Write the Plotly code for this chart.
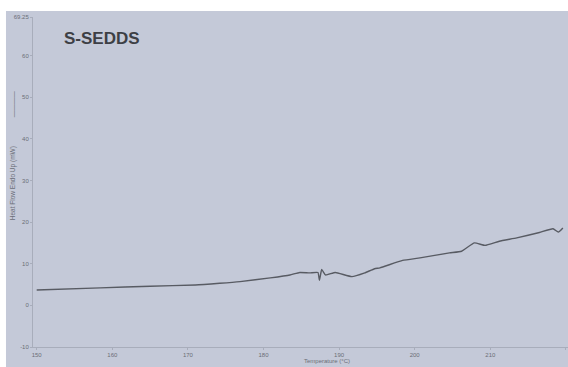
import plotly.graph_objects as go

temperature = [150.0, 158.4, 165.0, 171.0, 174.2, 176.9, 180.9, 183.5, 184.8, 186.1,
               187.2, 187.4, 187.7, 188.2, 189.5, 191.7, 193.4, 194.7, 195.4, 198.4,
               200.7, 204.6, 206.2, 207.9, 209.3, 211.2, 213.5, 216.5, 218.3, 219.0, 219.6]
heat_flow = [3.7, 4.2, 4.6, 4.9, 5.3, 5.7, 6.6, 7.3, 7.9, 7.8,
             7.9, 6.0, 8.6, 7.3, 7.9, 6.9, 7.8, 8.8, 9.0, 10.8,
             11.4, 12.6, 13.0, 15.0, 14.4, 15.4, 16.2, 17.5, 18.4, 17.6, 18.6]

x_ticks = [150, 160, 170, 180, 190, 200, 210, 220]
y_ticks = [-10, 0, 10, 20, 30, 40, 50, 60, 69.25]
y_tick_text = ["-10", "0", "10", "20", "30", "40", "50", "60", "69.25"]

bg = "#c4c9d8"
tick_col = "#6b6e77"

fig = go.Figure()
fig.add_trace(go.Scatter(x=temperature, y=heat_flow, mode="lines",
                         line=dict(color="#585b63", width=1.4, shape="spline", smoothing=0.4),
                         showlegend=False, hoverinfo="skip"))

fig.update_layout(
    width=568, height=367,
    margin=dict(l=33, r=0, t=17, b=20),
    paper_bgcolor=bg, plot_bgcolor=bg,
    font=dict(family="Liberation Sans, Arial, sans-serif", color=tick_col, size=6),
    xaxis=dict(range=[149.51, 220.28], tickmode="array", tickvals=x_ticks,
               showgrid=False, zeroline=False, showline=True, linecolor="#a8adbb", linewidth=1,
               ticks="outside", ticklen=2, tickcolor="#a8adbb",
               tickfont=dict(size=6, color=tick_col)),
    yaxis=dict(range=[-10, 69.25], tickmode="array", tickvals=y_ticks, ticktext=y_tick_text,
               showgrid=False, zeroline=False, showline=True, linecolor="#a8adbb", linewidth=1,
               ticks="outside", ticklen=2, tickcolor="#a8adbb",
               tickfont=dict(size=6, color=tick_col)),
    shapes=[
        dict(type="rect", xref="paper", yref="paper", x0=-0.07, x1=1.01, y0=1.018, y1=1.06,
             fillcolor="white", line=dict(width=0), layer="above"),
        dict(type="rect", xref="paper", yref="paper", x0=-0.07, x1=-0.0505, y0=-0.07, y1=1.06,
             fillcolor="white", line=dict(width=0), layer="above"),
    ],
    annotations=[
        dict(text="<b>S-SEDDS</b>", xref="paper", yref="paper", x=0.055, y=0.935,
             xanchor="left", yanchor="middle", showarrow=False,
             font=dict(size=17, color="#3d3f45", family="Liberation Sans, Arial, sans-serif")),
        dict(text="Heat Flow Endo Up (mW)", xref="paper", yref="paper",
             x=-0.037, y=0.497, xanchor="center", yanchor="middle", textangle=-90,
             showarrow=False, font=dict(size=6.5, color=tick_col)),
        dict(text="————", xref="paper", yref="paper",
             x=-0.037, y=0.736, xanchor="center", yanchor="middle", textangle=-90,
             showarrow=False, font=dict(size=6.5, color=tick_col)),
        dict(text="Temperature (°C)", xref="paper", yref="paper", x=0.55, y=-0.042,
             xanchor="center", yanchor="middle", showarrow=False,
             font=dict(size=6, color=tick_col)),
    ],
)

fig.write_html("out.html")
